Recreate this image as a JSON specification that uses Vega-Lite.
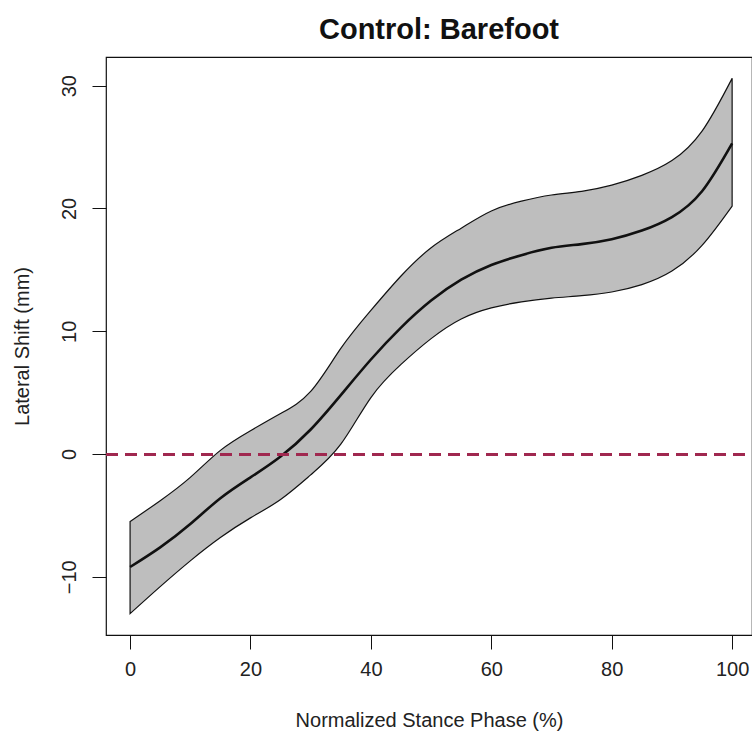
{
  "$schema": "https://vega.github.io/schema/vega-lite/v6.json",
  "autosize": {"type": "none"},
  "padding": {"left": 106, "top": 57, "right": 0, "bottom": 99},
  "width": 646,
  "height": 578,
  "background": "white",
  "title": {
    "text": "Control: Barefoot",
    "font": "Liberation Sans",
    "fontSize": 29,
    "fontWeight": "bold",
    "color": "#111111",
    "anchor": "middle",
    "frame": "group",
    "baseline": "alphabetic",
    "offset": 17,
    "dx": 10,
    "dy": 28
  },
  "config": {
    "view": {"stroke": "#111111", "strokeWidth": 1.2},
    "axis": {
      "grid": false,
      "domain": false,
      "tickColor": "#111111",
      "tickSize": 14,
      "tickWidth": 1,
      "labelFont": "Liberation Sans",
      "labelFontSize": 20,
      "labelColor": "#222222",
      "titleFont": "Liberation Sans",
      "titleFontSize": 20,
      "titleFontWeight": "normal",
      "titleColor": "#222222"
    }
  },
  "data": {
    "values": [
      {"x": 0, "lower": -13.0, "mean": -9.2, "upper": -5.5},
      {"x": 5, "lower": -10.8, "mean": -7.6, "upper": -3.8},
      {"x": 10, "lower": -8.7, "mean": -5.7, "upper": -1.9},
      {"x": 15, "lower": -6.8, "mean": -3.6, "upper": 0.3},
      {"x": 20, "lower": -5.2, "mean": -1.9, "upper": 1.9},
      {"x": 25, "lower": -3.7, "mean": -0.2, "upper": 3.3},
      {"x": 30, "lower": -1.7, "mean": 2.0, "upper": 5.1},
      {"x": 35, "lower": 0.8, "mean": 4.8, "upper": 8.6},
      {"x": 40, "lower": 4.6, "mean": 7.7, "upper": 11.7},
      {"x": 45, "lower": 7.3, "mean": 10.3, "upper": 14.5},
      {"x": 50, "lower": 9.4, "mean": 12.5, "upper": 16.8},
      {"x": 55, "lower": 11.0, "mean": 14.2, "upper": 18.4},
      {"x": 60, "lower": 11.9, "mean": 15.4, "upper": 19.8},
      {"x": 65, "lower": 12.4, "mean": 16.2, "upper": 20.6},
      {"x": 70, "lower": 12.7, "mean": 16.8, "upper": 21.1},
      {"x": 75, "lower": 12.9, "mean": 17.1, "upper": 21.4},
      {"x": 80, "lower": 13.2, "mean": 17.5, "upper": 21.9},
      {"x": 85, "lower": 13.8, "mean": 18.2, "upper": 22.7},
      {"x": 90, "lower": 14.9, "mean": 19.3, "upper": 23.9},
      {"x": 95, "lower": 17.0, "mean": 21.4, "upper": 26.3},
      {"x": 100, "lower": 20.2, "mean": 25.3, "upper": 30.6}
    ]
  },
  "encoding": {
    "x": {
      "field": "x",
      "type": "quantitative",
      "scale": {"domain": [-4, 103.3], "nice": false, "zero": false},
      "axis": {
        "values": [0, 20, 40, 60, 80, 100],
        "title": "Normalized Stance Phase (%)",
        "labelPadding": 10,
        "titleX": 323,
        "titleY": 85,
        "titleBaseline": "middle",
        "titleAnchor": "middle"
      }
    }
  },
  "layer": [
    {
      "mark": {"type": "area", "interpolate": "natural", "fill": "#bebebe", "stroke": "#111111", "strokeWidth": 1.2},
      "encoding": {
        "y": {
          "field": "lower",
          "type": "quantitative",
          "scale": {"domain": [-14.74, 32.34], "nice": false, "zero": false},
          "axis": {
            "values": [-10, 0, 10, 20, 30],
            "title": "Lateral Shift (mm)",
            "labelAngle": -90,
            "labelAlign": "center",
            "labelBaseline": "bottom",
            "labelPadding": 13,
            "titleAngle": -90,
            "titleX": -84,
            "titleY": 289,
            "titleAlign": "center",
            "titleBaseline": "middle"
          }
        },
        "y2": {"field": "upper"}
      }
    },
    {
      "mark": {"type": "line", "interpolate": "natural", "color": "#111111", "strokeWidth": 2.6},
      "encoding": {"y": {"field": "mean", "type": "quantitative"}}
    },
    {
      "mark": {"type": "rule", "color": "#a0284f", "strokeWidth": 2.2, "strokeDash": [12, 7]},
      "encoding": {"y": {"datum": 0, "type": "quantitative"}, "x": {"value": 0}, "x2": {"value": 646}}
    }
  ]
}
